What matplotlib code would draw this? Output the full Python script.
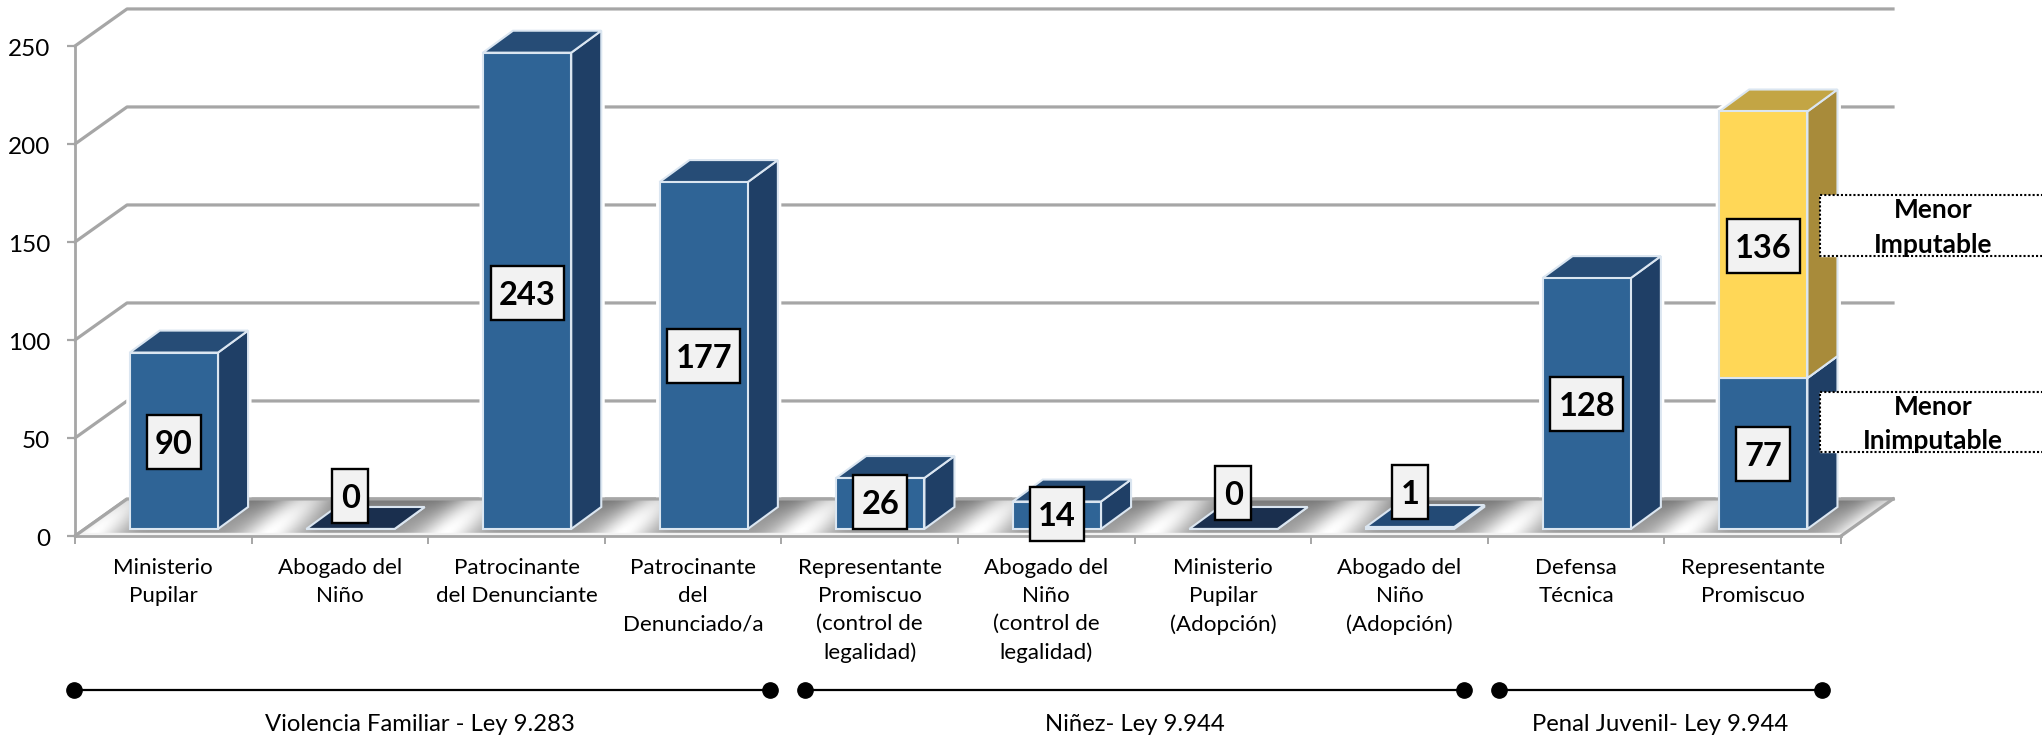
import matplotlib
import matplotlib.pyplot as plt
from matplotlib.patches import Polygon, Rectangle
from matplotlib.transforms import ScaledTranslation
import numpy as np

matplotlib.use('Agg')
plt.rcParams['font.family'] = ['Lato', 'DejaVu Sans']

# data
categories = ["Ministerio\nPupilar", "Abogado del\nNiño", "Patrocinante\ndel Denunciante",
              "Patrocinante\ndel\nDenunciado/a", "Representante\nPromiscuo\n(control de\nlegalidad)",
              "Abogado del\nNiño\n(control de\nlegalidad)", "Ministerio\nPupilar\n(Adopción)",
              "Abogado del\nNiño\n(Adopción)", "Defensa\nTécnica", "Representante\nPromiscuo"]
blue_values = [90, 0, 243, 177, 26, 14, 0, 1, 128, 77]
yellow_values = [0, 0, 0, 0, 0, 0, 0, 0, 0, 136]
y_ticks = [0, 50, 100, 150, 200, 250]

# where the number boxes sit, in value units
box_y = [48, 20.4, 124, 92, 17.5, 11.4, 22, 22.4, 67.3, 42]
yellow_box_y = 148

group_names = ["Violencia Familiar - Ley 9.283", "Niñez- Ley 9.944", "Penal Juvenil- Ley 9.944"]
group_start = [-0.506, 3.634, 7.563]
group_end = [3.435, 7.365, 9.392]
group_text_x = [1.454, 5.50, 8.475]

# oblique 3d offsets, in axis units
wall_dx, wall_dy = 0.2945, 18.9
bar_dx, bar_dy = 0.17, 11.2
bar_w = 0.5
bar_shift = 0.06
base = 3.6

grid_c = '#a6a6a6'
edge_c = '#dbe6f1'

fig = plt.figure(figsize=(20.42, 7.40), dpi=100)
ax = fig.add_axes([75 / 2042, (740 - 536) / 740, 1766 / 2042, 490 / 740])
ax.set_xlim(-0.5, 9.5)
ax.set_ylim(0, 250)
ax.patch.set_visible(False)
for s in ['top', 'right']:
    ax.spines[s].set_visible(False)
for s in ['left', 'bottom']:
    ax.spines[s].set_color(grid_c)
    ax.spines[s].set_linewidth(2)
    ax.spines[s].set_zorder(6)

ax.set_yticks(y_ticks)
ax.tick_params(axis='y', length=6, width=1.6, color=grid_c, labelsize=17.5, pad=12)
for lbl in ax.get_yticklabels():
    lbl.set_transform(lbl.get_transform() + ScaledTranslation(0, -1.2 / 72, fig.dpi_scale_trans))
ax.set_xticks(np.arange(-0.5, 10, 1))
ax.set_xticklabels([])
ax.tick_params(axis='x', which='major', length=6, width=1.4, color=grid_c)
ax.set_xticks(np.arange(10), minor=True)
ax.set_xticklabels(categories, minor=True, fontsize=16.1, linespacing=1.5)
ax.tick_params(axis='x', which='minor', length=0, pad=16)

# walls
for v in y_ticks:
    ax.plot([-0.5, -0.5 + wall_dx, 9.5 + wall_dx], [v, v + wall_dy, v + wall_dy],
            color=grid_c, lw=2.3, clip_on=False, zorder=1)

# floor, gray with a light diagonal streak per category
floor_pts = [(-0.5, 0), (9.5, 0), (9.5 + wall_dx, wall_dy), (-0.5 + wall_dx, wall_dy)]
xs = np.linspace(-0.5, 9.5 + wall_dx, 1400)
hs = np.linspace(0, wall_dy, 60)
gx, gy = np.meshgrid(xs, hs)
band = 0.5 + 0.5 * np.cos(2 * np.pi * (gx - gy / wall_dy * wall_dx * 0.8 + 0.42))
shade = 0.62 + 0.38 * band ** 4
shade = shade - 0.16 * (gy / wall_dy) ** 2
shade = np.where(gy < 1.6, 0.95, shade)
floor = Polygon(floor_pts, closed=True, fc='none', ec='none', clip_on=False)
ax.add_patch(floor)
im = ax.imshow(shade, extent=[xs[0], xs[-1], 0, wall_dy], origin='lower', aspect='auto',
               cmap='gray', vmin=0, vmax=1, zorder=2, interpolation='bilinear')
im.set_clip_box(fig.bbox)
im.set_clip_path(floor)
ax.plot([9.5, 9.5 + wall_dx], [0, wall_dy], color=grid_c, lw=2.3, clip_on=False, zorder=3)
ax.plot([-0.5, -0.5 + wall_dx, 9.5 + wall_dx], [0, wall_dy, wall_dy], color=grid_c, lw=2.3,
        clip_on=False, zorder=3)
ax.set_xlim(-0.5, 9.5)
ax.set_ylim(0, 250)


def box3d(x0, y0, h, front, side, top, halo=True):
    x1 = x0 + bar_w
    front_pts = [(x0, y0), (x1, y0), (x1, y0 + h), (x0, y0 + h)]
    side_pts = [(x1, y0), (x1 + bar_dx, y0 + bar_dy), (x1 + bar_dx, y0 + h + bar_dy), (x1, y0 + h)]
    top_pts = [(x0, y0 + h), (x1, y0 + h), (x1 + bar_dx, y0 + h + bar_dy), (x0 + bar_dx, y0 + h + bar_dy)]
    if halo:
        # white gap that the gridlines stop at
        outline = [(x0, y0), (x1, y0), (x1 + bar_dx, y0 + bar_dy), (x1 + bar_dx, y0 + h + bar_dy),
                   (x0 + bar_dx, y0 + h + bar_dy), (x0, y0 + h)]
        ax.add_patch(Polygon(outline, closed=True, fc='white', ec='white', lw=5, clip_on=False, zorder=1.5))
    for pts, col in [(side_pts, side), (top_pts, top), (front_pts, front)]:
        if h == 0 and col != top:
            continue
        ax.add_patch(Polygon(pts, closed=True, fc=col, ec=edge_c, lw=1.5, joinstyle='miter',
                             clip_on=False, zorder=4))


def value_box(x, y, val):
    # box width follows the number of digits
    w = {1: 36, 2: 54, 3: 73}[len(str(val))] / 176.6
    h = 27.5
    ax.add_patch(Rectangle((x - w / 2, y - h / 2), w, h, fc='#f2f2f2', ec='black', lw=1.7,
                           clip_on=False, zorder=7))
    ax.text(x, y, str(val), ha='center', va='center_baseline', fontsize=23.5, fontweight='bold',
            color='black', zorder=8, clip_on=False)


for i in range(len(categories)):
    x0 = i + bar_shift - bar_w / 2
    b = blue_values[i]
    y = yellow_values[i]
    if b == 0:
        box3d(x0, base, 0, '#1a2f4e', '#1a2f4e', '#1a2f4e', halo=False)
    elif b == 1:
        box3d(x0, base, b, '#2f6496', '#1f3f66', '#234a75', halo=False)
    else:
        box3d(x0, base, b, '#2f6496', '#1f3f66', '#264c76')
    if y > 0:
        box3d(x0, base + b, y, '#ffd757', '#a88b3a', '#c3a544')

for i in range(len(categories)):
    value_box(i + bar_shift, box_y[i], blue_values[i])
value_box(9 + bar_shift, yellow_box_y, yellow_values[9])

# side captions with dotted outline
for y_top, y_bot, line1, line2 in [(174, 143, "Menor", "Imputable"), (73.5, 43, "Menor", "Inimputable")]:
    x_left = 9.38
    x_right = 11
    ax.fill([x_left, x_right, x_right, x_left], [y_bot, y_bot, y_top, y_top], color='white',
            clip_on=False, zorder=5)
    ax.plot([x_right, x_left, x_left, x_right], [y_top, y_top, y_bot, y_bot], color='black', lw=1.5,
            ls=(0, (1, 1)), clip_on=False, zorder=6)
    ax.text(10.02, y_top - 7.5, line1, ha='center', va='center', fontsize=19, fontweight='bold',
            clip_on=False, zorder=7)
    ax.text(10.02, y_bot + 5.5, line2, ha='center', va='center', fontsize=19, fontweight='bold',
            clip_on=False, zorder=7)

# law groups under the axis
for name, start, end, tx in zip(group_names, group_start, group_end, group_text_x):
    ax.plot([start, end], [-78.6, -78.6], color='black', lw=1.6, marker='o', ms=11, clip_on=False)
    ax.text(tx, -96.4, name, ha='center', va='center', fontsize=17.2, clip_on=False)

fig.savefig('out.png', dpi=100, facecolor='white')
